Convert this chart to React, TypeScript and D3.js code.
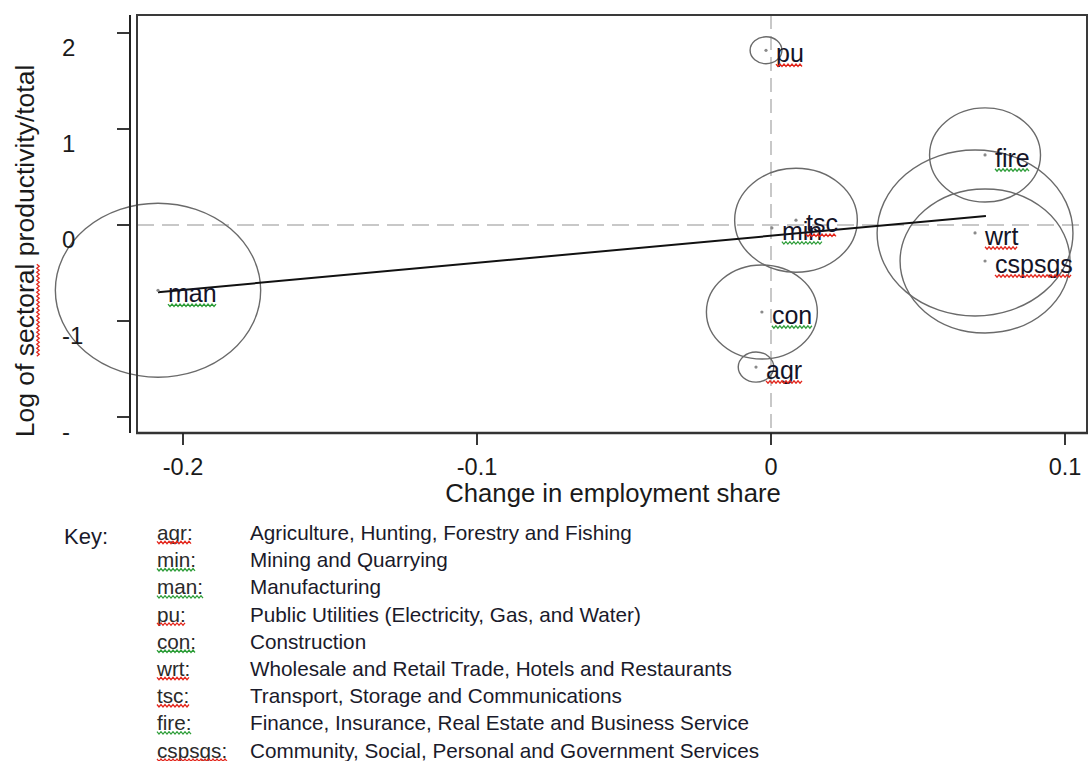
import React, { useMemo } from "react";
import * as d3 from "d3";

// ---- data ----
const sectors = ["agr", "min", "man", "pu", "con", "wrt", "tsc", "fire", "cspsgs"];
const empChange = [-0.0051, 0.0003, -0.2085, -0.0017, -0.0031, 0.0694, 0.0085, 0.0728, 0.0728];
const logProd = [-1.48, -0.03, -0.68, 1.82, -0.906, -0.083, 0.05, 0.73, -0.375];
const bubbleWeight = [3.0, 0, 100, 2.4, 29.2, 91, 35.7, 29.2, 68.5];
const spellFlag = ["red", "green", "green", "red", "green", "red", "red", "green", "red"];
const descriptions = [
  "Agriculture, Hunting, Forestry and Fishing",
  "Mining and Quarrying",
  "Manufacturing",
  "Public Utilities (Electricity, Gas, and Water)",
  "Construction",
  "Wholesale and Retail Trade, Hotels and Restaurants",
  "Transport, Storage and Communications",
  "Finance, Insurance, Real Estate and Business Service",
  "Community, Social, Personal and Government Services",
];
const fitX = [-0.2085, 0.0731];
const fitY = [-0.7, 0.094];
const xTicks = [-0.2, -0.1, 0, 0.1];
const xTickLabels = ["-0.2", "-0.1", "0", "0.1"];
const yTicks = [2, 1, 0, -1, -2];
const yTickLabels = ["2", "1", "0", "-1", "-"];

const FONT = "'Liberation Sans', Arial, Helvetica, sans-serif";
const RED = "#e3261c";
const GREEN = "#2f9e3a";

let ctxCache: CanvasRenderingContext2D | null = null;
function measure(text: string, size: number): number {
  if (!ctxCache) {
    const c = document.createElement("canvas");
    ctxCache = c.getContext("2d");
  }
  if (!ctxCache) return text.length * size * 0.5;
  ctxCache.font = `${size}px "Liberation Sans"`;
  return ctxCache.measureText(text).width;
}

function squiggle(x0: number, x1: number, y: number): string {
  const pts: [number, number][] = [];
  let up = true;
  for (let x = x0; x <= x1 + 0.01; x += 2) {
    pts.push([x, up ? y - 1.2 : y + 1.2]);
    up = !up;
  }
  return d3.line()(pts) || "";
}

export default function App() {
  const W = 1091;
  const H = 761;
  const frame = { left: 137, top: 15, right: 1087, bottom: 433 };
  const yAxisX = 130;

  const x = d3.scaleLinear().domain([-0.2, 0.1]).range([183, 1065]);
  const y = d3.scaleLinear().domain([-2, 2]).range([417, 33]);
  const r = d3.scaleSqrt().domain([0, 100]).range([0, 87]);
  const aspect = 1.18;

  const labelSize = 25;
  const keySize = 20.7;

  const titleSize = 26.5;
  const titlePart1 = "Log of ";
  const titlePart2 = "sectoral";
  const titleFull = "Log of sectoral productivity/total";
  const w1 = useMemo(() => measure(titlePart1, titleSize), []);
  const w2 = useMemo(() => measure(titlePart2, titleSize), []);
  const wFull = useMemo(() => measure(titleFull, titleSize), []);

  const line = d3
    .line<number>()
    .x((_, i) => x(fitX[i]))
    .y((d) => y(d));

  const keyRowY = (i: number) => 540 + i * 27.2;

  return (
    <svg
      width={W}
      height={H}
      style={{ position: "absolute", left: 0, top: 0, background: "#fff" }}
      fontFamily={FONT}
    >
      <rect x={0} y={0} width={W} height={H} fill="#fff" />

      {/* reference lines */}
      <line
        x1={frame.left}
        x2={frame.right}
        y1={y(0)}
        y2={y(0)}
        stroke="#c8c8c8"
        strokeWidth={2}
        strokeDasharray="17 8"
      />
      <line
        x1={x(0)}
        x2={x(0)}
        y1={frame.top}
        y2={frame.bottom}
        stroke="#c8c8c8"
        strokeWidth={2}
        strokeDasharray="14 7"
      />

      {/* bubbles */}
      {sectors.map((s, i) =>
        bubbleWeight[i] > 0 ? (
          <ellipse
            key={"e" + s}
            cx={x(empChange[i])}
            cy={y(logProd[i])}
            rx={r(bubbleWeight[i]) * aspect}
            ry={r(bubbleWeight[i])}
            fill="none"
            stroke="#6a6a6a"
            strokeWidth={1.4}
          />
        ) : null
      )}

      {/* fitted line */}
      <path d={line(fitY) || ""} fill="none" stroke="#111" strokeWidth={2} />

      {/* points */}
      {sectors.map((s, i) => (
        <circle
          key={"p" + s}
          cx={x(empChange[i])}
          cy={y(logProd[i])}
          r={1.6}
          fill="#8a8a8a"
        />
      ))}

      {/* labels */}
      {sectors.map((s, i) => {
        const lx = x(empChange[i]) + 10;
        const ly = y(logProd[i]) + 12;
        const w = measure(s, labelSize);
        return (
          <g key={"l" + s}>
            <text x={lx} y={ly} fontSize={labelSize} fill="#141428">
              {s}
            </text>
            <path
              d={squiggle(lx, lx + w, ly + 3)}
              fill="none"
              stroke={spellFlag[i] === "red" ? RED : GREEN}
              strokeWidth={1.3}
            />
          </g>
        );
      })}

      {/* frame */}
      <rect
        x={frame.left}
        y={frame.top}
        width={frame.right - frame.left}
        height={frame.bottom - frame.top}
        fill="none"
        stroke="#3a3a3a"
        strokeWidth={2}
      />
      <line
        x1={frame.left - 1}
        x2={frame.right + 1}
        y1={frame.bottom}
        y2={frame.bottom}
        stroke="#333"
        strokeWidth={2.6}
      />

      {/* y axis */}
      <line x1={yAxisX} x2={yAxisX} y1={frame.top} y2={frame.bottom} stroke="#222" strokeWidth={2} />
      {yTicks.map((t, i) => (
        <g key={"yt" + t}>
          <line x1={yAxisX - 13} x2={yAxisX} y1={y(t)} y2={y(t)} stroke="#222" strokeWidth={1.8} />
          <text x={62} y={y(t) + 23} fontSize={24} fill="#1a1a1a">
            {yTickLabels[i]}
          </text>
        </g>
      ))}

      {/* x axis ticks */}
      {xTicks.map((t, i) => (
        <g key={"xt" + t}>
          <line x1={x(t)} x2={x(t)} y1={frame.bottom} y2={frame.bottom + 12} stroke="#222" strokeWidth={1.8} />
          <text x={x(t)} y={475} fontSize={23.5} textAnchor="middle" fill="#1a1a1a">
            {xTickLabels[i]}
          </text>
        </g>
      ))}

      {/* axis titles */}
      <text x={613} y={502} fontSize={25.7} textAnchor="middle" fill="#1a1a1a">
        Change in employment share
      </text>
      <g transform={`translate(34, 251) rotate(-90)`}>
        <text x={-wFull / 2} y={0} fontSize={titleSize} fill="#1a1a1a">
          {titleFull}
        </text>
        <path
          d={squiggle(-wFull / 2 + w1, -wFull / 2 + w1 + w2, 4)}
          fill="none"
          stroke={RED}
          strokeWidth={1.3}
        />
      </g>

      {/* key */}
      <text x={64} y={544} fontSize={22} fill="#1a1a2a">
        Key:
      </text>
      {sectors.map((s, i) => {
        const yy = keyRowY(i);
        const ab = s + ":";
        const w = measure(ab, keySize);
        return (
          <g key={"k" + s}>
            <text x={157} y={yy} fontSize={keySize} fill="#2a2a2a">
              {ab}
            </text>
            <path
              d={squiggle(157, 157 + w, yy + 2.5)}
              fill="none"
              stroke={spellFlag[i] === "red" ? RED : GREEN}
              strokeWidth={1.3}
            />
            <text x={250} y={yy} fontSize={keySize} fill="#1a1a2a">
              {descriptions[i]}
            </text>
          </g>
        );
      })}
    </svg>
  );
}
